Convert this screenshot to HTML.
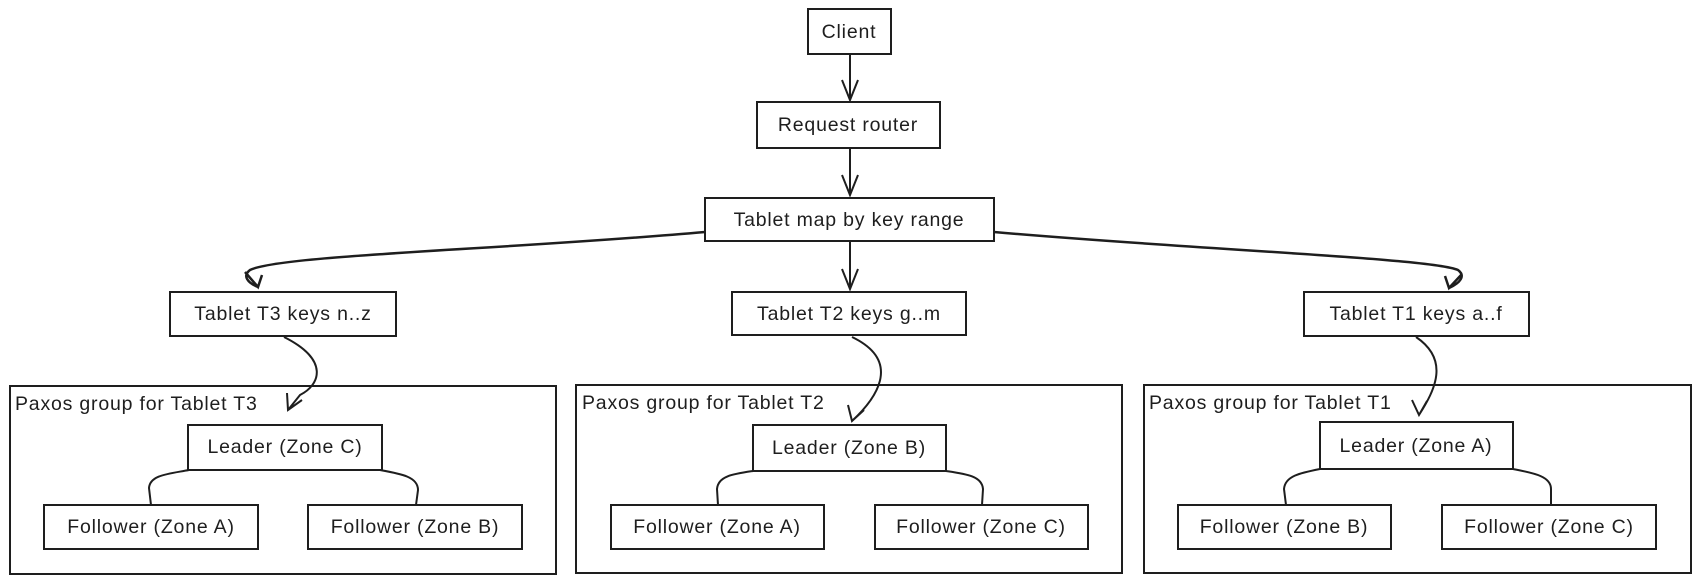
<!DOCTYPE html>
<html><head><meta charset="utf-8"><style>
html,body{margin:0;padding:0;background:#fff}
svg{display:block}
text{font-family:"Liberation Sans",sans-serif;font-size:19.5px;letter-spacing:0.8px;fill:#1e1e1e}
</style></head><body>
<svg width="1702" height="584" viewBox="0 0 1702 584" xmlns="http://www.w3.org/2000/svg">
<g fill="none" stroke="#1e1e1e" stroke-width="2">
<rect x="808" y="9" width="83" height="45"/>
<rect x="757" y="102" width="183" height="46"/>
<rect x="705" y="198" width="289" height="43"/>
<rect x="170" y="292" width="226" height="44"/>
<rect x="732" y="292" width="234" height="43"/>
<rect x="1304" y="292" width="225" height="44"/>
<rect x="10" y="386" width="546" height="188"/>
<rect x="576" y="385" width="546" height="188"/>
<rect x="1144" y="385" width="547" height="188"/>
<rect x="188" y="425" width="194" height="45"/>
<rect x="44" y="505" width="214" height="44"/>
<rect x="308" y="505" width="214" height="44"/>
<rect x="753" y="425" width="193" height="46"/>
<rect x="611" y="505" width="213" height="44"/>
<rect x="875" y="505" width="213" height="44"/>
<rect x="1320" y="422" width="193" height="47"/>
<rect x="1178" y="505" width="213" height="44"/>
<rect x="1442" y="505" width="214" height="44"/>
<!-- arrows -->
<path d="M850 55 V100 M842 80 L850 100 L858 80"/>
<path d="M850 149 V195 M842 175 L850 195 L858 175"/>
<path d="M850 242 V289 M842 269 L850 289 L858 269"/>
<path d="M705 232 C500 250 280 255 250 270 C242 276 248 283 258 287 M245 272 L258 287 L262 275" stroke-width="2.5"/>
<path d="M994 232 C1200 250 1430 258 1458 270 C1466 276 1460 283 1449 288 M1462 274 L1449 288 L1445 276" stroke-width="2.5"/>
<path d="M284 337 C330 360 320 385 300 395 L288 410 M287 393 L288 410 L302 400"/>
<path d="M852 337 C900 360 880 395 852 421 M848 405 L852 421 L864 410"/>
<path d="M1416 337 C1450 360 1435 390 1419 415 M1412 400 L1419 415 L1427 401"/>
<!-- leader->followers -->
<path d="M189 470 C168 474 150 475 149 488 L151 505"/>
<path d="M380 470 C402 474 418 477 418 490 L416 505"/>
<path d="M753 471 C733 474 718 476 717 489 L718 505"/>
<path d="M946 471 C966 474 982 476 983 489 L982 505"/>
<path d="M1320 469 C1300 473 1285 476 1284 489 L1286 505"/>
<path d="M1513 469 C1533 473 1551 476 1551 489 L1551 505"/>
</g>
<g text-anchor="middle">
<text x="849" y="38">Client</text>
<text x="848" y="131">Request router</text>
<text x="849" y="226">Tablet map by key range</text>
<text x="283" y="320">Tablet T3 keys n..z</text>
<text x="849" y="320">Tablet T2 keys g..m</text>
<text x="1416" y="320">Tablet T1 keys a..f</text>
<text x="285" y="453">Leader (Zone C)</text>
<text x="151" y="533">Follower (Zone A)</text>
<text x="415" y="533">Follower (Zone B)</text>
<text x="849" y="454">Leader (Zone B)</text>
<text x="717" y="533">Follower (Zone A)</text>
<text x="981" y="533">Follower (Zone C)</text>
<text x="1416" y="452">Leader (Zone A)</text>
<text x="1284" y="533">Follower (Zone B)</text>
<text x="1549" y="533">Follower (Zone C)</text>
</g>
<text x="15" y="410">Paxos group for Tablet T3</text>
<text x="582" y="409">Paxos group for Tablet T2</text>
<text x="1149" y="409">Paxos group for Tablet T1</text>
</svg>
</body></html>
